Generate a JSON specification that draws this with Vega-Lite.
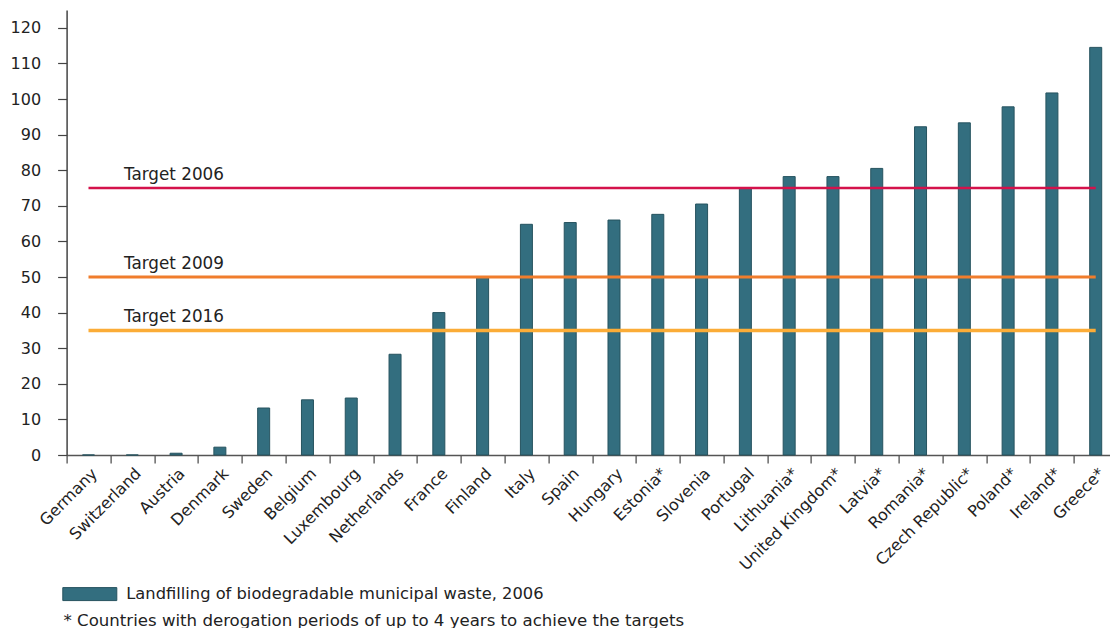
{
  "$schema": "https://vega.github.io/schema/vega-lite/v6.json",
  "width": 1043.4,
  "height": 445,
  "autosize": {"type": "none"},
  "padding": {"left": 66.6, "top": 10, "right": 0, "bottom": 173},
  "background": "white",
  "config": {
    "font": "DejaVu Sans",
    "view": {"stroke": null},
    "axis": {"labelFont": "DejaVu Sans", "titleFont": "DejaVu Sans", "labelColor": "#222", "titleColor": "#222"}
  },
  "datasets": {
    "waste": [
      {"country": "Germany", "value": 0},
      {"country": "Switzerland", "value": 0},
      {"country": "Austria", "value": 0.5},
      {"country": "Denmark", "value": 2.2},
      {"country": "Sweden", "value": 13.2},
      {"country": "Belgium", "value": 15.5},
      {"country": "Luxembourg", "value": 16},
      {"country": "Netherlands", "value": 28.3},
      {"country": "France", "value": 40},
      {"country": "Finland", "value": 50},
      {"country": "Italy", "value": 64.8},
      {"country": "Spain", "value": 65.3},
      {"country": "Hungary", "value": 66},
      {"country": "Estonia*", "value": 67.6},
      {"country": "Slovenia", "value": 70.5},
      {"country": "Portugal", "value": 75},
      {"country": "Lithuania*", "value": 78.2},
      {"country": "United Kingdom*", "value": 78.2},
      {"country": "Latvia*", "value": 80.5},
      {"country": "Romania*", "value": 92.2},
      {"country": "Czech Republic*", "value": 93.3},
      {"country": "Poland*", "value": 97.8},
      {"country": "Ireland*", "value": 101.7},
      {"country": "Greece*", "value": 114.5}
    ],
    "targets": [
      {"target": "Target 2006", "value": 75, "country": "Germany", "end": "Greece*"},
      {"target": "Target 2009", "value": 50, "country": "Germany", "end": "Greece*"},
      {"target": "Target 2016", "value": 35, "country": "Germany", "end": "Greece*"}
    ]
  },
  "encoding": {
    "x": {
      "field": "country", "type": "nominal", "sort": null,
      "scale": {"range": [0, 1051], "paddingInner": 0, "paddingOuter": 0},
      "axis": {
        "title": "* Countries with derogation periods of up to 4 years to achieve the targets",
        "titleX": -3.6, "titleY": 170, "titleAlign": "left", "titleBaseline": "alphabetic", "titleAnchor": "start",
        "titleFontSize": 16.6, "titleFontWeight": "normal",
        "labelAngle": -45, "labelAlign": "right", "labelBaseline": "top",
        "labelFontSize": 16, "labelPadding": 2, "labelOverlap": false, "labelLimit": 300,
        "tickBand": "extent", "tickSize": 8, "tickColor": "#444", "tickWidth": 1.2,
        "domainColor": "#555", "domainWidth": 1.5
      }
    },
    "y": {
      "field": "value", "type": "quantitative",
      "scale": {"domain": [0, 125], "nice": false},
      "axis": {
        "title": null, "values": [0, 10, 20, 30, 40, 50, 60, 70, 80, 90, 100, 110, 120],
        "labelOverlap": false,
        "grid": false, "labelFontSize": 16, "tickSize": 9, "labelPadding": 17,
        "tickColor": "#444", "tickWidth": 1.2, "domainColor": "#444", "domainWidth": 1.5
      }
    }
  },
  "layer": [
    {
      "data": {"name": "waste"},
      "mark": {"type": "bar", "width": 12, "stroke": "#26535f", "strokeWidth": 1},
      "encoding": {
        "fill": {
          "datum": "Landfilling of biodegradable municipal waste, 2006",
          "scale": {"range": ["#336e7f"]},
          "legend": {
            "title": null, "orient": "none", "legendX": -4.3, "legendY": 556.6, "padding": 0,
            "symbolType": "M-1,-0.24L1,-0.24L1,0.24L-1,0.24Z", "symbolSize": 2916,
            "symbolStrokeColor": "#26535f", "symbolStrokeWidth": 1, "symbolOpacity": 1,
            "labelFontSize": 16.3, "labelOffset": 9, "labelColor": "#222", "labelFont": "DejaVu Sans", "labelLimit": 800
          }
        }
      }
    },
    {
      "data": {"name": "targets"},
      "mark": {"type": "rule", "strokeCap": "butt"},
      "encoding": {
        "x2": {"field": "end"},
        "stroke": {
          "field": "target", "type": "nominal",
          "scale": {"domain": ["Target 2006", "Target 2009", "Target 2016"], "range": ["#d4124b", "#f07d2c", "#fbac37"]},
          "legend": null
        },
        "strokeWidth": {
          "field": "target", "type": "nominal",
          "scale": {"domain": ["Target 2006", "Target 2009", "Target 2016"], "range": [2.5, 3.5, 3]},
          "legend": null
        }
      }
    },
    {
      "data": {"name": "targets"},
      "mark": {"type": "text", "align": "left", "baseline": "alphabetic", "dx": 35.5, "dy": -8, "fontSize": 16.8, "color": "#222", "font": "DejaVu Sans"},
      "encoding": {
        "text": {"field": "target"}
      }
    }
  ]
}
